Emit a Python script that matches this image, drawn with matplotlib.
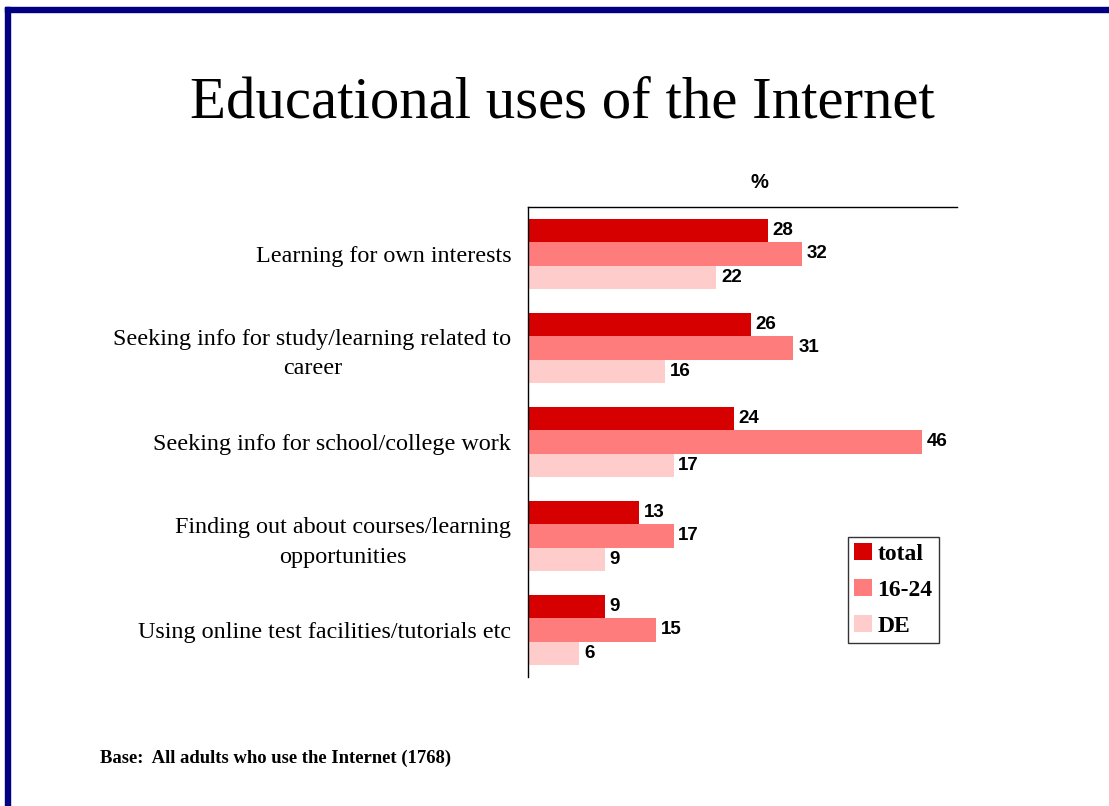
import matplotlib.pyplot as plt
from matplotlib.patches import Rectangle
import numpy as np

categories = [
    "Learning for own interests",
    "Seeking info for study/learning related to\ncareer",
    "Seeking info for school/college work",
    "Finding out about courses/learning\nopportunities",
    "Using online test facilities/tutorials etc",
]
series_names = ["total", "16-24", "DE"]
total = [28, 26, 24, 13, 9]
age_16_24 = [32, 31, 46, 17, 15]
de = [22, 16, 17, 9, 6]
colors = ["#D60000", "#FF7C7C", "#FFCCCC"]

serif = "Liberation Serif"
sans = "Liberation Sans"

fig = plt.figure(figsize=(11.09, 8.06), dpi=100)
fig.patch.set_facecolor("white")

# navy slide frame along the top and left edges
navy = "#000080"
fig.patches.append(Rectangle((5 / 1109, 0), 5 / 1109, 1 - 7 / 806,
                             transform=fig.transFigure, color=navy, zorder=0))
fig.patches.append(Rectangle((5 / 1109, 1 - 12 / 806), 1, 5 / 806,
                             transform=fig.transFigure, color=navy, zorder=0))

ax = fig.add_axes([528 / 1109, 1 - 677 / 806, 429 / 1109, 470 / 806])

y = np.arange(len(categories))
h = 0.245
for i, (vals, name, c) in enumerate(zip([total, age_16_24, de], series_names, colors)):
    pos = y + (i - 1) * h
    ax.barh(pos, vals, height=h, color=c, label=name)
    for p, v in zip(pos, vals):
        ax.text(v + 0.55, p, str(v), va="center", ha="left",
                fontsize=13.5, fontweight="bold", family=sans)

ax.set_xlim(0, 50.1)
ax.set_ylim(len(categories) - 0.5, -0.5)
ax.set_yticks(y)
ax.set_yticklabels(categories, fontsize=17.4, family=serif, ha="right",
                   multialignment="center", linespacing=1.5)
ax.tick_params(axis="y", length=0, pad=12)
ax.set_xticks([])
for s in ["right", "bottom"]:
    ax.spines[s].set_visible(False)
ax.spines["left"].set_linewidth(1)
ax.spines["top"].set_linewidth(1)

leg = ax.legend(loc="upper left", bbox_to_anchor=(320 / 429, 1 - 330 / 470),
                prop={"family": serif, "weight": "bold", "size": 17},
                frameon=True, fancybox=False, edgecolor="black",
                handlelength=0.75, handleheight=0.75, handletextpad=0.25,
                labelspacing=0.6, borderpad=0.25, borderaxespad=0)
leg.get_frame().set_linewidth(1)

fig.text(562 / 1109, 1 - 104 / 806, "Educational uses of the Internet",
         ha="center", va="center", fontsize=42.4, family=serif)
fig.text(759 / 1109, 1 - 182 / 806, "%", ha="center", va="center",
         fontsize=14.5, fontweight="bold", family=sans)
fig.text(100 / 1109, 1 - 758 / 806, "Base:  All adults who use the Internet (1768)",
         ha="left", va="center", fontsize=13.4, fontweight="bold", family=serif)

fig.savefig("out.png", dpi=100)
